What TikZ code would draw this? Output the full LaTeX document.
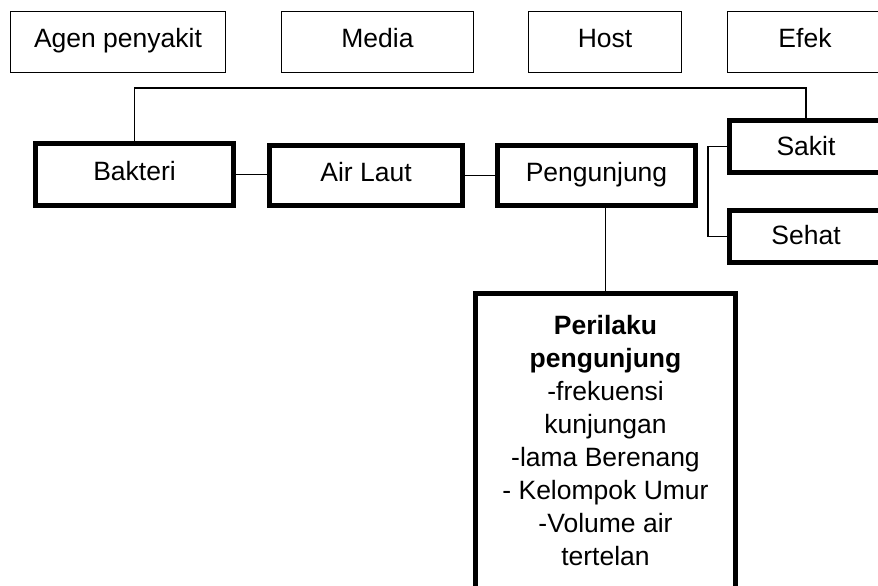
\documentclass[tikz,border=0pt]{standalone}
\usepackage{fontspec}
\setmainfont{Liberation Sans}
\begin{document}
\begin{tikzpicture}[x=1pt,y=-1pt,
  kind/.style={rectangle,draw=black,line width=1.8pt,minimum height=61pt,inner sep=0pt,
    text height=18.5pt,text depth=6.5pt},
  item/.style={rectangle,draw=black,line width=5pt,inner sep=0pt,
    text height=18.5pt,text depth=6.5pt},
  link/.style={draw=black,line width=1.3pt},
  every node/.style={font=\fontsize{26.5}{33}\selectfont}]
\clip (0,0) rectangle (878,586);

\node[kind,minimum width=215pt] (agen) at (118,42) {Agen penyakit};
\node[kind,minimum width=192pt] (media) at (377.5,42) {Media};
\node[kind,minimum width=153pt] (host) at (605,42) {Host};
\node[kind,minimum width=155pt] (efek) at (805,42) {Efek};

\node[item,minimum width=198pt,minimum height=62pt] (bakteri) at (134.5,174.5) {Bakteri};
\node[item,minimum width=193pt,minimum height=60pt] (airlaut) at (366,175.5) {Air Laut};
\node[item,minimum width=198pt,minimum height=60pt] (pengunjung) at (596.5,175.5) {Pengunjung};
\node[item,minimum width=153pt,minimum height=52pt,text depth=1pt] (sakit) at (806,146.5) {Sakit};
\node[item,minimum width=153pt,minimum height=52pt,text depth=2pt] (sehat) at (806,236.5) {Sehat};

\node[item,minimum width=260pt,minimum height=295pt,align=center,text height=,text depth=]
  (perilaku) at (605.5,441)
  {\textbf{Perilaku}\\\textbf{pengunjung}\\-frekuensi\\kunjungan\\-lama Berenang\\- Kelompok Umur\\-Volume air\\tertelan};

\coordinate (top) at (0,88);
\coordinate (brace) at (708,0);
\draw[link] (bakteri.north) |- (top -| sakit.north) -- (sakit.north);
\draw[link] (bakteri.east) -- (bakteri.east -| airlaut.west);
\draw[link] (airlaut.east) -- (airlaut.east -| pengunjung.west);
\draw[link] (sakit.west) -- (sakit.west -| brace) -- (sehat.west -| brace) -- (sehat.west);
\draw[link] (perilaku.north |- pengunjung.south) -- (perilaku.north);
\end{tikzpicture}
\end{document}
